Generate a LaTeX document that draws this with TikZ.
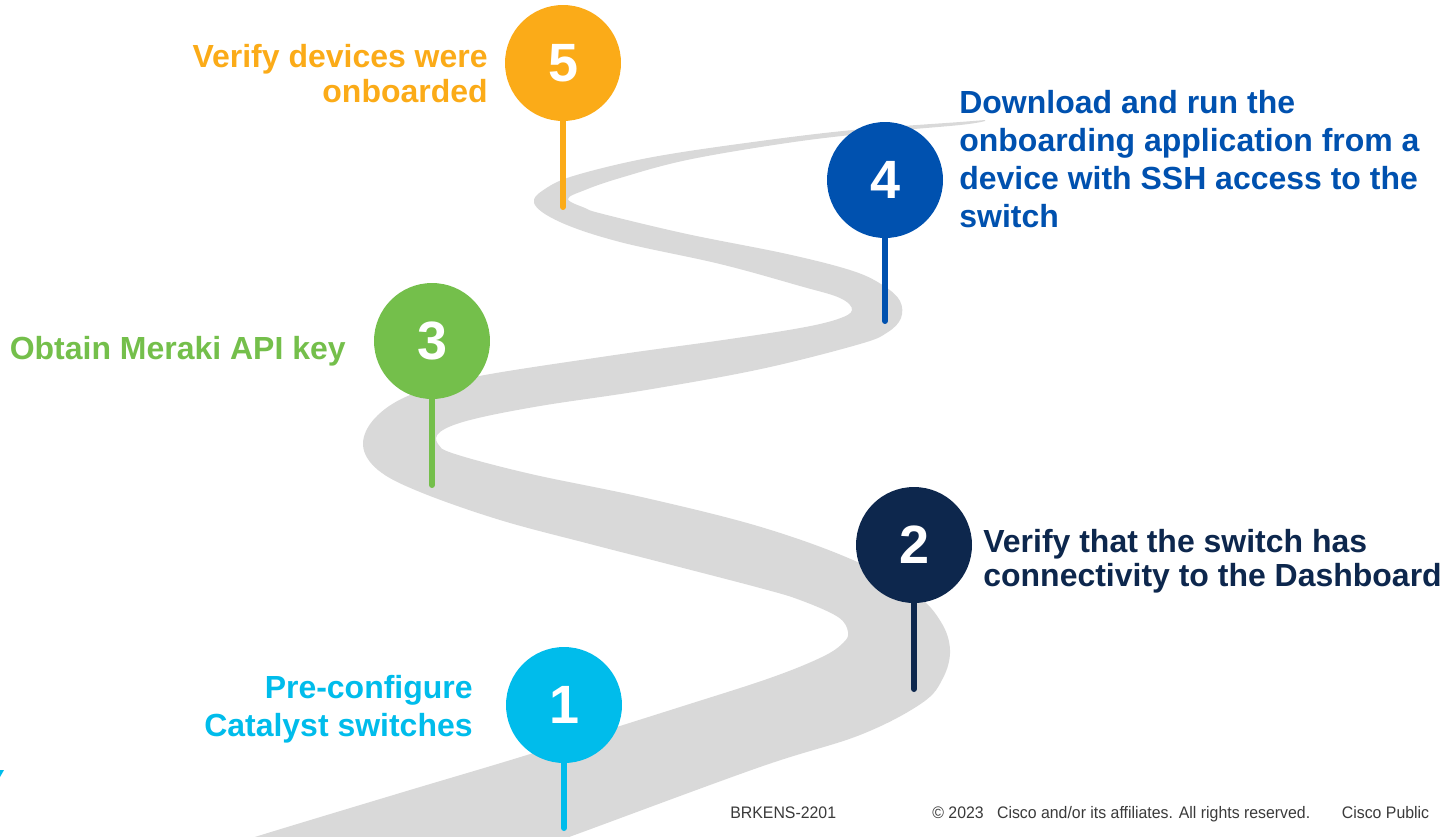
\documentclass[tikz,border=0pt]{standalone}
\usepackage{fontspec}
\setmainfont{Liberation Sans}
\newfontfamily\footfont[FakeStretch=0.95]{Liberation Sans}
\definecolor{stepone}{HTML}{00BCEB}
\definecolor{steptwo}{HTML}{0D274D}
\definecolor{stepthree}{HTML}{74BF4B}
\definecolor{stepfour}{HTML}{0051AF}
\definecolor{stepfive}{HTML}{FBAB18}
\definecolor{roadgray}{HTML}{D9D9D9}
\definecolor{footgray}{HTML}{3A3A3A}
\begin{document}
\begin{tikzpicture}[x=0.02cm,y=-0.02cm,
  stepdot/.style={circle,fill=#1,text=white,minimum size=2.32cm,inner sep=0pt,
    font=\fontsize{30.7}{30.7}\selectfont\bfseries},
  stepstem/.style={draw=#1,line width=3.4pt,line cap=round},
  steptxt/.style={text=#1,inner sep=0pt,font=\fontsize{18.2}{21.6}\selectfont\bfseries},
  foot/.style={text=footgray,inner sep=0pt,font=\footfont\fontsize{9.5}{11}\selectfont}]
\useasboundingbox (0,0) rectangle (1456,836);
% the road
\begin{scope}
 \clip (0,0) rectangle (1456,836);
 \fill[roadgray] plot[smooth,tension=0.6] coordinates {
   (200,855) (258,836) (400,793) (527,755) (680,707) (770,678) (822,657)
   (843,643) (848,632) (838,617) (800,600) (760,588) (660,562) (590,544) (500,520)
   (420,492) (378,470) (363,445) (375,418) (410,395) (474,377) (608,356)
   (723,340) (800,328) (838,319) (852,310) (840,298) (800,286) (720,264)
   (620,242) (560,222) (534,203) (548,187) (580,174) (653,157) (753,142)
   (853,130) (960,122) (985,120)}
  -- plot[smooth,tension=0.6] coordinates {
   (985,121) (960,125) (870,133) (787,143) (687,160) (620,178) (585,190)
   (568,199) (585,208) (603,214) (687,234) (787,254) (853,271) (884,286)
   (900,301) (901,318) (888,332) (860,344) (761,369) (646,390) (540,406)
   (470,420) (440,432) (438,444) (455,454) (531,474) (646,498) (761,527)
   (853,560) (915,594) (941,622) (950,650) (943,678) (922,703) (860,735) (760,767)
   (580,833) (520,855)} -- cycle;
\end{scope}
\fill[stepone] (0,770) -- (4,770) -- (0,777) -- cycle;
% stems
\coordinate (e1) at (564,828);
\coordinate (e2) at (914,689);
\coordinate (e3) at (432,485);
\coordinate (e4) at (885,321);
\coordinate (e5) at (563,207);
\draw[stepstem=stepone] (564,705) -- (e1);
\draw[stepstem=steptwo] (914,545) -- (e2);
\draw[stepstem=stepthree] (432,341) -- (e3);
\draw[stepstem=stepfour] (885,180) -- (e4);
\draw[stepstem=stepfive] (563,63) -- (e5);
% markers
\node[stepdot=stepone] (n1) at (564,705) {1};
\node[stepdot=steptwo] (n2) at (914,545) {2};
\node[stepdot=stepthree] (n3) at (432,341) {3};
\node[stepdot=stepfour] (n4) at (885,180) {4};
\node[stepdot=stepfive] (n5) at (563,63) {5};
% texts (base = last line)
\node[steptxt=stepone,anchor=base east,align=right] (t1) at (473,736)
  {Pre-configure\\Catalyst switches};
\node[steptxt=steptwo,anchor=base west,align=left,
  font=\fontsize{18.2}{18.8}\selectfont\bfseries] (t2) at (983,586)
  {Verify that the switch has\\connectivity to the Dashboard};
\node[steptxt=stepthree,anchor=base east] (t3) at (346,359) {Obtain Meraki API key};
\node[steptxt=stepfour,anchor=base west,align=left] (t4) at (959,227)
  {Download and run the\\onboarding application from a\\device with SSH access to the\\switch};
\node[steptxt=stepfive,anchor=base east,align=right,
  font=\fontsize{18.2}{19.9}\selectfont\bfseries] (t5) at (488,102)
  {Verify devices were\\onboarded};
% footer
\node[foot,anchor=base west] (code) at (730,818) {BRKENS-2201};
\node[foot,anchor=base west] (copy) at (932,818)
  {\textcopyright{} 2023\hspace{0.8em}Cisco and/or its affiliates. All rights reserved.\hspace{1.9em}Cisco Public};
\end{tikzpicture}
\end{document}
